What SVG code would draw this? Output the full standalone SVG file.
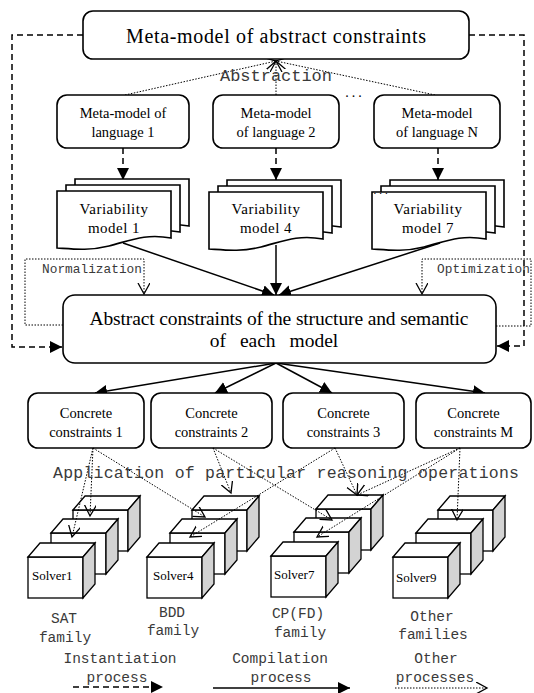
<svg xmlns="http://www.w3.org/2000/svg" xmlns:xlink="http://www.w3.org/1999/xlink" width="534" height="693" viewBox="0 0 534 693">
<style>
.box{fill:#fff;stroke:#000;stroke-width:1.6}
.doc{fill:#fff;stroke:#000;stroke-width:1.6}
.serif{font-family:"Liberation Serif","Times New Roman",serif;fill:#000}
.mono{font-family:"Liberation Mono","Courier New",monospace;fill:#3a3a3a}
.solid{fill:none;stroke:#000;stroke-width:1.5}
.dash{fill:none;stroke:#000;stroke-width:1.5;stroke-dasharray:6,4}
.dot{fill:none;stroke:#000;stroke-width:1;stroke-dasharray:1.5,1.5}
.face{fill:#fff;stroke:#000;stroke-width:1.3}
.side{fill:#d3d3d3;stroke:#000;stroke-width:1.3}
</style>
<defs>
<marker id="fa" markerUnits="userSpaceOnUse" markerWidth="14" markerHeight="14" refX="12" refY="6" orient="auto"><path d="M0,0 L12,6 L0,12 Z" fill="#000"/></marker>
<marker id="oa" markerUnits="userSpaceOnUse" markerWidth="14" markerHeight="14" refX="11" refY="6" orient="auto"><path d="M0,0 L11,6 L0,12" fill="none" stroke="#000" stroke-width="1.3"/></marker>
<path id="docshape" d="M0,0 H114 V47 C88,42 72,50 52,55 C32,60 16,58 0,57 Z"/>
<g id="docstack">
<use xlink:href="#docshape" class="doc" x="18" y="-12"/>
<use xlink:href="#docshape" class="doc" x="9" y="-6"/>
<use xlink:href="#docshape" class="doc"/>
</g>
<g id="cube">
<rect x="0" y="0" width="55" height="41" class="face"/>
<polygon points="0,0 12,-14 67,-14 55,0" class="face"/>
<polygon points="55,0 67,-14 67,27 55,41" class="side"/>
</g>
<g id="cubestack">
<use xlink:href="#cube" x="45" y="-47"/>
<use xlink:href="#cube" x="23" y="-24"/>
<use xlink:href="#cube"/>
</g>
</defs>

<g id="connectors">
<path class="dash" d="M83,35 H12 V347 H62" marker-end="url(#fa)"/>
<path class="dash" d="M469,35 H524 V346 H497" marker-end="url(#fa)"/>
<line class="dot" x1="125" y1="95" x2="276" y2="61" marker-end="url(#oa)"/>
<line class="dot" x1="276" y1="95" x2="276" y2="61" marker-end="url(#oa)"/>
<line class="dot" x1="435" y1="95" x2="276" y2="61" marker-end="url(#oa)"/>
<line class="dash" x1="123" y1="148" x2="123" y2="180" marker-end="url(#fa)"/>
<line class="dash" x1="276" y1="148" x2="276" y2="180" marker-end="url(#fa)"/>
<line class="dash" x1="438" y1="148" x2="438" y2="180" marker-end="url(#fa)"/>
<line class="solid" x1="123" y1="243" x2="274" y2="295" marker-end="url(#fa)"/>
<line class="solid" x1="276" y1="245" x2="276" y2="295" marker-end="url(#fa)"/>
<line class="solid" x1="440" y1="243" x2="279" y2="295" marker-end="url(#fa)"/>
<path class="dot" d="M63,325 H25 V259 H144 V294" marker-end="url(#oa)"/>
<path class="dot" d="M496,326 H531 V259 H422 V294" marker-end="url(#oa)"/>
<line class="solid" x1="276" y1="363" x2="95" y2="393" marker-end="url(#fa)"/>
<line class="solid" x1="276" y1="363" x2="215" y2="393" marker-end="url(#fa)"/>
<line class="solid" x1="276" y1="363" x2="332" y2="393" marker-end="url(#fa)"/>
<line class="solid" x1="276" y1="363" x2="485" y2="393" marker-end="url(#fa)"/>
</g>

<g id="meta-abstract">
<rect class="box" x="83" y="11" width="386" height="48" rx="10"/>
<text class="serif" x="276" y="43" font-size="20" text-anchor="middle" textLength="300">Meta-model of abstract constraints</text>
</g>
<text class="mono" x="220" y="81" font-size="17" textLength="112">Abstraction</text>

<g id="meta-lang1">
<rect class="box" x="57" y="95" width="132" height="53" rx="10"/>
<text class="serif" x="123" y="118" font-size="14.5" text-anchor="middle">Meta-model of</text>
<text class="serif" x="123" y="137" font-size="14.5" text-anchor="middle">language 1</text>
</g>
<g id="meta-lang2">
<rect class="box" x="213" y="95" width="126" height="53" rx="10"/>
<text class="serif" x="276" y="118" font-size="14.5" text-anchor="middle">Meta-model</text>
<text class="serif" x="276" y="137" font-size="14.5" text-anchor="middle">of language 2</text>
</g>
<text class="serif" x="355" y="97" font-size="14" text-anchor="middle" letter-spacing="3">...</text>
<g id="meta-langN">
<rect class="box" x="374" y="95" width="126" height="53" rx="10"/>
<text class="serif" x="437" y="118" font-size="14.5" text-anchor="middle">Meta-model</text>
<text class="serif" x="437" y="137" font-size="14.5" text-anchor="middle">of language N</text>
</g>

<g id="varmodel1">
<use xlink:href="#docstack" x="57" y="191"/>
<text class="serif" x="114" y="214" font-size="15" text-anchor="middle" letter-spacing="0.5">Variability</text>
<text class="serif" x="114" y="233" font-size="15" text-anchor="middle" letter-spacing="0.5">model 1</text>
</g>
<g id="varmodel4">
<use xlink:href="#docstack" x="209" y="192"/>
<text class="serif" x="266" y="214" font-size="15" text-anchor="middle" letter-spacing="0.5">Variability</text>
<text class="serif" x="266" y="233" font-size="15" text-anchor="middle" letter-spacing="0.5">model 4</text>
</g>
<g id="varmodel7">
<use xlink:href="#docstack" x="372" y="192"/>
<text class="serif" x="382" y="194" font-size="11" text-anchor="middle" letter-spacing="3">...</text>
<text class="serif" x="428" y="214" font-size="15" text-anchor="middle" letter-spacing="0.5">Variability</text>
<text class="serif" x="428" y="233" font-size="15" text-anchor="middle" letter-spacing="0.5">model 7</text>
</g>

<text class="mono" x="42" y="273" font-size="12.8" textLength="100">Normalization</text>
<text class="mono" x="437" y="273" font-size="12.8" textLength="93">Optimization</text>

<g id="abstract-constraints">
<rect class="box" x="63" y="295" width="433" height="68" rx="12"/>
<text class="serif" x="279" y="325" font-size="19.5" text-anchor="middle" textLength="379">Abstract constraints  of the structure and semantic</text>
<text class="serif" x="274" y="347" font-size="19.5" text-anchor="middle" word-spacing="9">of each model</text>
</g>

<g id="concrete1">
<rect class="box" x="28" y="393" width="116" height="55" rx="10"/>
<text class="serif" x="86" y="418" font-size="14.5" text-anchor="middle">Concrete</text>
<text class="serif" x="86" y="437" font-size="14.5" text-anchor="middle">constraints 1</text>
</g>
<g id="concrete2">
<rect class="box" x="151" y="393" width="121" height="55" rx="10"/>
<text class="serif" x="211.5" y="418" font-size="14.5" text-anchor="middle">Concrete</text>
<text class="serif" x="211.5" y="437" font-size="14.5" text-anchor="middle">constraints 2</text>
</g>
<g id="concrete3">
<rect class="box" x="283" y="393" width="121" height="55" rx="10"/>
<text class="serif" x="343.5" y="418" font-size="14.5" text-anchor="middle">Concrete</text>
<text class="serif" x="343.5" y="437" font-size="14.5" text-anchor="middle">constraints 3</text>
</g>
<g id="concreteM">
<rect class="box" x="416" y="393" width="115" height="55" rx="10"/>
<text class="serif" x="473.5" y="418" font-size="14.5" text-anchor="middle">Concrete</text>
<text class="serif" x="473.5" y="437" font-size="14.5" text-anchor="middle">constraints M</text>
</g>

<g id="solver1"><use xlink:href="#cubestack" x="28" y="557"/><text class="serif" x="32" y="580" font-size="13">Solver1</text></g>
<g id="solver4"><use xlink:href="#cubestack" x="147" y="557"/><text class="serif" x="153" y="580" font-size="13">Solver4</text></g>
<g id="solver7"><use xlink:href="#cubestack" x="271" y="556"/><text class="serif" x="274" y="579" font-size="13">Solver7</text></g>
<g id="solver9"><use xlink:href="#cubestack" x="393" y="557"/><text class="serif" x="396" y="582" font-size="13">Solver9</text></g>

<g id="reasoning-connectors">
<line class="dot" x1="93" y1="448" x2="72" y2="537" marker-end="url(#oa)"/>
<line class="dot" x1="93" y1="448" x2="90" y2="516" marker-end="url(#oa)"/>
<line class="dot" x1="93" y1="448" x2="205" y2="517" marker-end="url(#oa)"/>
<line class="dot" x1="213" y1="448" x2="231" y2="493" marker-end="url(#oa)"/>
<line class="dot" x1="213" y1="448" x2="332" y2="520" marker-end="url(#oa)"/>
<line class="dot" x1="335" y1="448" x2="190" y2="537" marker-end="url(#oa)"/>
<line class="dot" x1="335" y1="448" x2="357" y2="495" marker-end="url(#oa)"/>
<line class="dot" x1="460" y1="448" x2="357" y2="495" marker-end="url(#oa)"/>
<line class="dot" x1="460" y1="448" x2="317" y2="537" marker-end="url(#oa)"/>
<line class="dot" x1="460" y1="448" x2="457" y2="520" marker-end="url(#oa)"/>
</g>
<text class="mono" x="53" y="478" font-size="16.5" textLength="466">Application of particular reasoning operations</text>

<g id="legend" class="mono" font-size="14.5" text-anchor="middle">
<text x="64" y="623">SAT</text>
<text x="65" y="642">family</text>
<text x="172" y="617">BDD</text>
<text x="173" y="635">family</text>
<text x="298" y="618">CP(FD)</text>
<text x="300" y="637">family</text>
<text x="432" y="621">Other</text>
<text x="433" y="639">families</text>
<text x="120" y="663">Instantiation</text>
<text x="117" y="682">process</text>
<text x="280" y="663">Compilation</text>
<text x="281" y="682">process</text>
<text x="436" y="663">Other</text>
<text x="435" y="682">processes</text>
</g>
<g id="legend-arrows">
<line class="dash" x1="73" y1="687" x2="163" y2="687" marker-end="url(#fa)"/>
<line class="solid" x1="213" y1="688" x2="350" y2="688" marker-end="url(#fa)"/>
<line class="dot" x1="395" y1="688" x2="487" y2="688" marker-end="url(#oa)"/>
</g>
</svg>
